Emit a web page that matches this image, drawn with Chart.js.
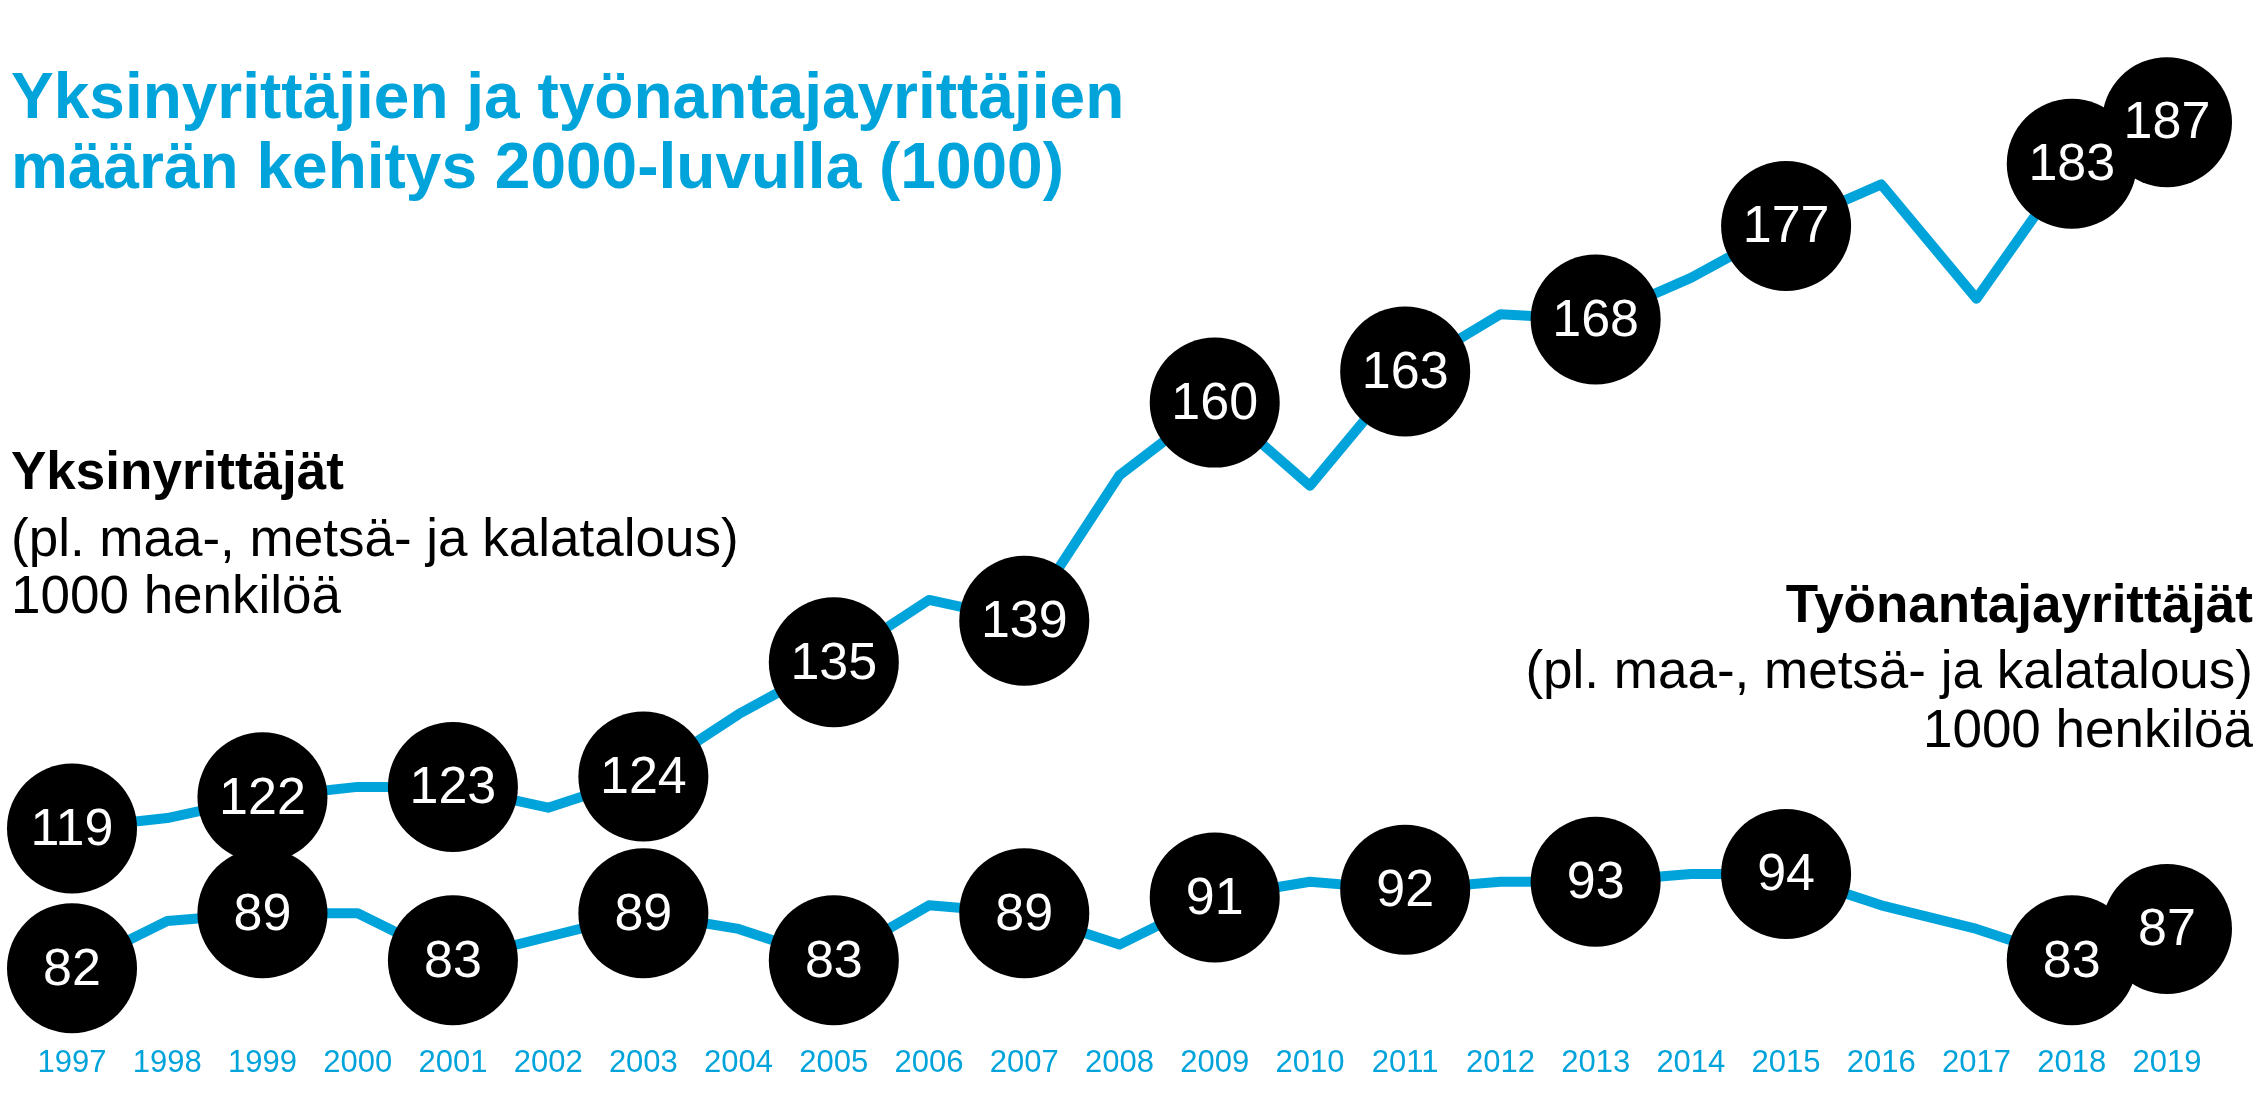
<!DOCTYPE html>
<html>
<head>
<meta charset="utf-8">
<script src="https://cdn.jsdelivr.net/npm/chart.js@4.4.1/dist/chart.umd.min.js"></script>
<style>
  html, body { margin: 0; padding: 0; background: #fff; }
  #wrap { position: relative; width: 2267px; height: 1096px; }
</style>
</head>
<body>
<div id="wrap"><canvas id="chart"></canvas></div>
<script>
// Years on the x axis
let years = ['1997', '1998', '1999', '2000', '2001', '2002', '2003', '2004', '2005', '2006', '2007', '2008',
  '2009', '2010', '2011', '2012', '2013', '2014', '2015', '2016', '2017', '2018', '2019']

// Yksinyrittäjät, 1000 henkilöä
let soloValues = [119, 120, 122, 123, 123, 121, 124, 130, 135, 141, 139, 153,
  160, 152, 163, 168.5, 168, 172, 177, 181, 170, 183, 187]

// Työnantajayrittäjät, 1000 henkilöä
let employerValues = [82, 88, 89, 89, 83, 86, 89, 87, 83, 90, 89, 85,
  91, 93, 92, 93, 93, 94, 94, 90, 87, 83, 87]

// Years that get a black value bubble
let bubbleYears = ['1997', '1999', '2001', '2003', '2005', '2007', '2009', '2011', '2013', '2015', '2018', '2019']

// Texts
let titleLines = ['Yksinyrittäjien ja työnantajayrittäjien', 'määrän kehitys 2000-luvulla (1000)']
let soloNote = ['Yksinyrittäjät', '(pl. maa-, metsä- ja kalatalous)', '1000 henkilöä']
let employerNote = ['Työnantajayrittäjät', '(pl. maa-, metsä- ja kalatalous)', '1000 henkilöä']

let blue = '#00a3da'
let font = '"Liberation Sans", Arial, sans-serif'

let isBubble = (i) => bubbleYears.includes(years[i])

// White numbers inside the bubbles
let bubbleLabels = {
  id: 'bubbleLabels',
  afterDatasetsDraw(chart) {
    let ctx = chart.ctx
    ctx.save()
    ctx.fillStyle = '#fff'
    ctx.font = '52px ' + font
    ctx.textAlign = 'center'
    ctx.textBaseline = 'middle'
    chart.data.datasets.forEach((ds, i) => {
      chart.getDatasetMeta(i).data.forEach((pt, j) => {
        if (!isBubble(j)) return
        ctx.fillText(String(ds.data[j]), pt.x, pt.y + 2)
      })
    })
    ctx.restore()
  }
}

// Title and the two series notes
let notes = {
  id: 'notes',
  afterDraw(chart) {
    let ctx = chart.ctx
    ctx.save()
    ctx.textBaseline = 'alphabetic'

    ctx.fillStyle = blue
    ctx.font = 'bold 64px ' + font
    ctx.textAlign = 'left'
    ctx.fillText(titleLines[0], 11, 118)
    ctx.fillText(titleLines[1], 11, 188)

    ctx.fillStyle = '#000'
    ctx.font = 'bold 53px ' + font
    ctx.fillText(soloNote[0], 11, 489)
    ctx.font = '53px ' + font
    ctx.fillText(soloNote[1], 11, 556)
    ctx.fillText(soloNote[2], 11, 613)

    ctx.textAlign = 'right'
    ctx.font = 'bold 53px ' + font
    ctx.fillText(employerNote[0], 2253, 622)
    ctx.font = '53px ' + font
    ctx.fillText(employerNote[1], 2253, 688)
    ctx.fillText(employerNote[2], 2253, 747)
    ctx.restore()
  }
}

let lineStyle = {
  borderColor: blue,
  borderWidth: 10,
  borderJoinStyle: 'round',
  tension: 0,
  pointRadius: (c) => isBubble(c.dataIndex) ? 65 : 0,
  pointBackgroundColor: '#000',
  pointBorderWidth: 0,
  clip: false,
}

new Chart(document.getElementById('chart'), {
  type: 'line',
  data: {
    labels: years,
    datasets: [
      Object.assign({ label: 'Yksinyrittäjät', data: soloValues, yAxisID: 'y' }, lineStyle),
      Object.assign({ label: 'Työnantajayrittäjät', data: employerValues, yAxisID: 'y2' }, lineStyle),
    ]
  },
  options: {
    responsive: true,
    maintainAspectRatio: false,
    animation: false,
    events: [],
    layout: { padding: { left: 72, right: 100, top: 20, bottom: 2 } },
    plugins: {
      legend: { display: false },
      tooltip: { enabled: false },
    },
    scales: {
      x: {
        grid: { display: false },
        border: { display: false },
        ticks: {
          color: blue,
          font: { family: font, size: 31 },
          padding: 6,
          maxRotation: 0,
          autoSkip: false,
        }
      },
      y: { display: false, min: 99.5, max: 192.5 },
      y2: { display: false, min: 74, max: 197 },
    }
  },
  plugins: [bubbleLabels, notes]
})
</script>
</body>
</html>
